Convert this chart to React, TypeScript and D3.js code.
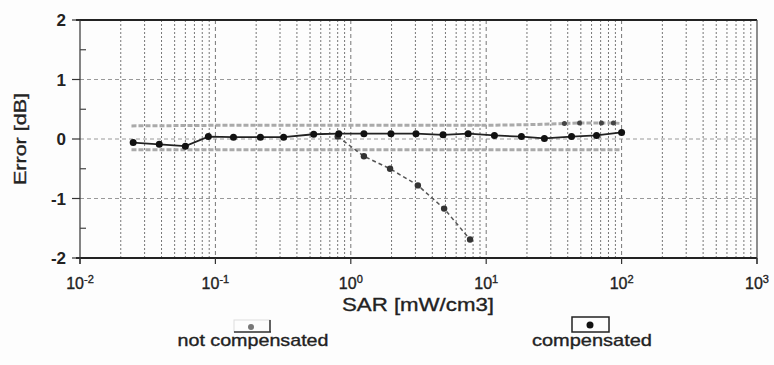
import React from "react";
import * as d3 from "d3";

// ---- data ----
const compX = [0.0247, 0.0385, 0.06, 0.0887, 0.136, 0.215, 0.319, 0.532, 0.815, 1.25, 1.98, 3.03, 4.8, 7.36, 11.5, 18.2, 26.9, 42.7, 65.3, 100];
const compY = [-0.06, -0.09, -0.12, 0.04, 0.03, 0.03, 0.03, 0.08, 0.09, 0.09, 0.09, 0.09, 0.07, 0.09, 0.06, 0.04, 0.01, 0.04, 0.06, 0.11];

const notCompX = [0.8, 1.25, 1.95, 3.13, 4.89, 7.6];
const notCompY = [0.04, -0.29, -0.5, -0.78, -1.17, -1.69];

const upperBandX = [0.024, 0.1, 1, 10, 20, 37.8, 48.9, 71, 87, 100];
const upperBandY = [0.22, 0.23, 0.23, 0.23, 0.24, 0.26, 0.27, 0.27, 0.27, 0.26];
const upperMarkX = [37.8, 48.9, 71, 87];
const upperMarkY = [0.26, 0.27, 0.27, 0.27];

const lowerBandX = [0.024, 0.1, 1, 10, 100];
const lowerBandY = [-0.18, -0.18, -0.18, -0.18, -0.18];

const xDecades = [0.01, 0.1, 1, 10, 100, 1000];
const xExponents = ["-2", "-1", "0", "1", "2", "3"];
const yTicks = [-2, -1, 0, 1, 2];
const yTickLabels = ["-2", "-1", "0", "1", "2"];
const yMinor = [-1.5, -0.5, 0.5, 1.5];
const yGrid = [-1, 0, 1];

const xTitle = "SAR [mW/cm3]";
const yTitle = "Error [dB]";
const legendNames = ["not compensated", "compensated"];

export default function App() {
  const W = 774, H = 365;
  const x = d3.scaleLog().domain([0.01, 1000]).range([80, 757]);
  const y = d3.scaleLinear().domain([-2, 2]).range([258, 20]);
  const font = "'Liberation Sans', Arial, sans-serif";

  const minorGrid: number[] = [];
  for (let e = -2; e <= 2; e++) for (let m = 2; m <= 9; m++) minorGrid.push(m * Math.pow(10, e));

  const line = (xs: number[], ys: number[]) =>
    d3.line<number>().x((_, i) => x(xs[i])).y((_, i) => y(ys[i]))(xs.map((_, i) => i)) || "";

  const txt = { fill: "#222", stroke: "#222", strokeWidth: 0.35 };

  return (
    <svg width={W} height={H} style={{ position: "absolute", left: 0, top: 0, background: "#fdfdfd" }} fontFamily={font}>
      {/* vertical grid */}
      {minorGrid.map((v, i) => (
        <line key={"mg" + i} x1={x(v)} x2={x(v)} y1={y(2)} y2={y(-2)} stroke="#777" strokeWidth={1} strokeDasharray="2,2" />
      ))}
      {xDecades.slice(1, -1).map((v, i) => (
        <line key={"dg" + i} x1={x(v)} x2={x(v)} y1={y(2)} y2={y(-2)} stroke="#777" strokeWidth={1} strokeDasharray="4,3" />
      ))}
      {/* horizontal grid */}
      {yGrid.map((v, i) => (
        <line key={"hg" + i} x1={x(0.01)} x2={x(1000)} y1={y(v)} y2={y(v)} stroke="#999" strokeWidth={1} strokeDasharray="4,3" />
      ))}

      {/* frame */}
      <line x1={x(0.01) - 4} x2={x(1000)} y1={y(2)} y2={y(2)} stroke="#222" strokeWidth={2.2} />
      <line x1={x(0.01) - 4} x2={x(1000)} y1={y(-2)} y2={y(-2)} stroke="#222" strokeWidth={2.2} />
      <line x1={x(0.01)} x2={x(0.01)} y1={y(2)} y2={y(-2) + 6} stroke="#333" strokeWidth={1.2} />
      <line x1={x(1000)} x2={x(1000)} y1={y(2)} y2={y(-2) + 6} stroke="#444" strokeWidth={1.2} />

      {/* y ticks */}
      {yTicks.map((v, i) => (
        <g key={"yt" + i}>
          <line x1={x(0.01) - 8} x2={x(0.01)} y1={y(v)} y2={y(v)} stroke="#333" strokeWidth={1.2} />
          <text x={x(0.01) - 14} y={y(v) + 6} textAnchor="end" fontSize={17} fontWeight="bold" fill="#222">{yTickLabels[i]}</text>
        </g>
      ))}
      {yMinor.map((v, i) => (
        <line key={"ym" + i} x1={x(0.01)} x2={x(0.01) + 6} y1={y(v)} y2={y(v)} stroke="#444" strokeWidth={1.2} />
      ))}

      {/* x ticks */}
      {xDecades.map((v, i) => (
        <g key={"xt" + i}>
          <line x1={x(v)} x2={x(v)} y1={y(-2)} y2={y(-2) + 6} stroke="#333" strokeWidth={1.2} />
          <text x={x(v)} y={289} textAnchor="middle" fontSize={16} {...txt}>
            10<tspan dy={-6} fontSize={11}>{xExponents[i]}</tspan>
          </text>
        </g>
      ))}

      {/* bands */}
      <path d={line(upperBandX, upperBandY)} fill="none" stroke="#aaa" strokeWidth={3} strokeDasharray="5,2" />
      <path d={line(lowerBandX, lowerBandY)} fill="none" stroke="#aaa" strokeWidth={3} strokeDasharray="5,2" />
      {upperMarkX.map((v, i) => (
        <circle key={"um" + i} cx={x(v)} cy={y(upperMarkY[i])} r={2.5} fill="#444" />
      ))}

      {/* not compensated */}
      <path d={line(notCompX, notCompY)} fill="none" stroke="#555" strokeWidth={1.5} strokeDasharray="4,3" />
      {notCompX.map((v, i) => (
        <circle key={"nc" + i} cx={x(v)} cy={y(notCompY[i])} r={3.2} fill="#333" />
      ))}

      {/* compensated */}
      <path d={line(compX, compY)} fill="none" stroke="#222" strokeWidth={1.8} />
      {compX.map((v, i) => (
        <circle key={"c" + i} cx={x(v)} cy={y(compY[i])} r={3.5} fill="#111" />
      ))}

      {/* titles */}
      <text x={418} y={311} textAnchor="middle" fontSize={19} textLength={152} lengthAdjust="spacingAndGlyphs" {...txt}>{xTitle}</text>
      <text transform="translate(26,139) rotate(-90)" textAnchor="middle" fontSize={17} textLength={92} lengthAdjust="spacingAndGlyphs" {...txt}>{yTitle}</text>

      {/* legend */}
      <rect x={234} y={320} width={36} height={12} fill="none" stroke="#ddd" strokeWidth={1} />
      <line x1={234} x2={271} y1={332} y2={332} stroke="#333" strokeWidth={1.5} />
      <line x1={270} x2={270} y1={320} y2={332} stroke="#333" strokeWidth={1.5} />
      <circle cx={251} cy={327} r={3} fill="#777" />
      <text x={253} y={346} textAnchor="middle" fontSize={17} textLength={151} lengthAdjust="spacingAndGlyphs" {...txt}>{legendNames[0]}</text>

      <rect x={572} y={317} width={37} height={15} fill="none" stroke="#222" strokeWidth={1.5} />
      <circle cx={590} cy={325} r={3.5} fill="#111" />
      <text x={592} y={346} textAnchor="middle" fontSize={17} textLength={120} lengthAdjust="spacingAndGlyphs" {...txt}>{legendNames[1]}</text>
    </svg>
  );
}
